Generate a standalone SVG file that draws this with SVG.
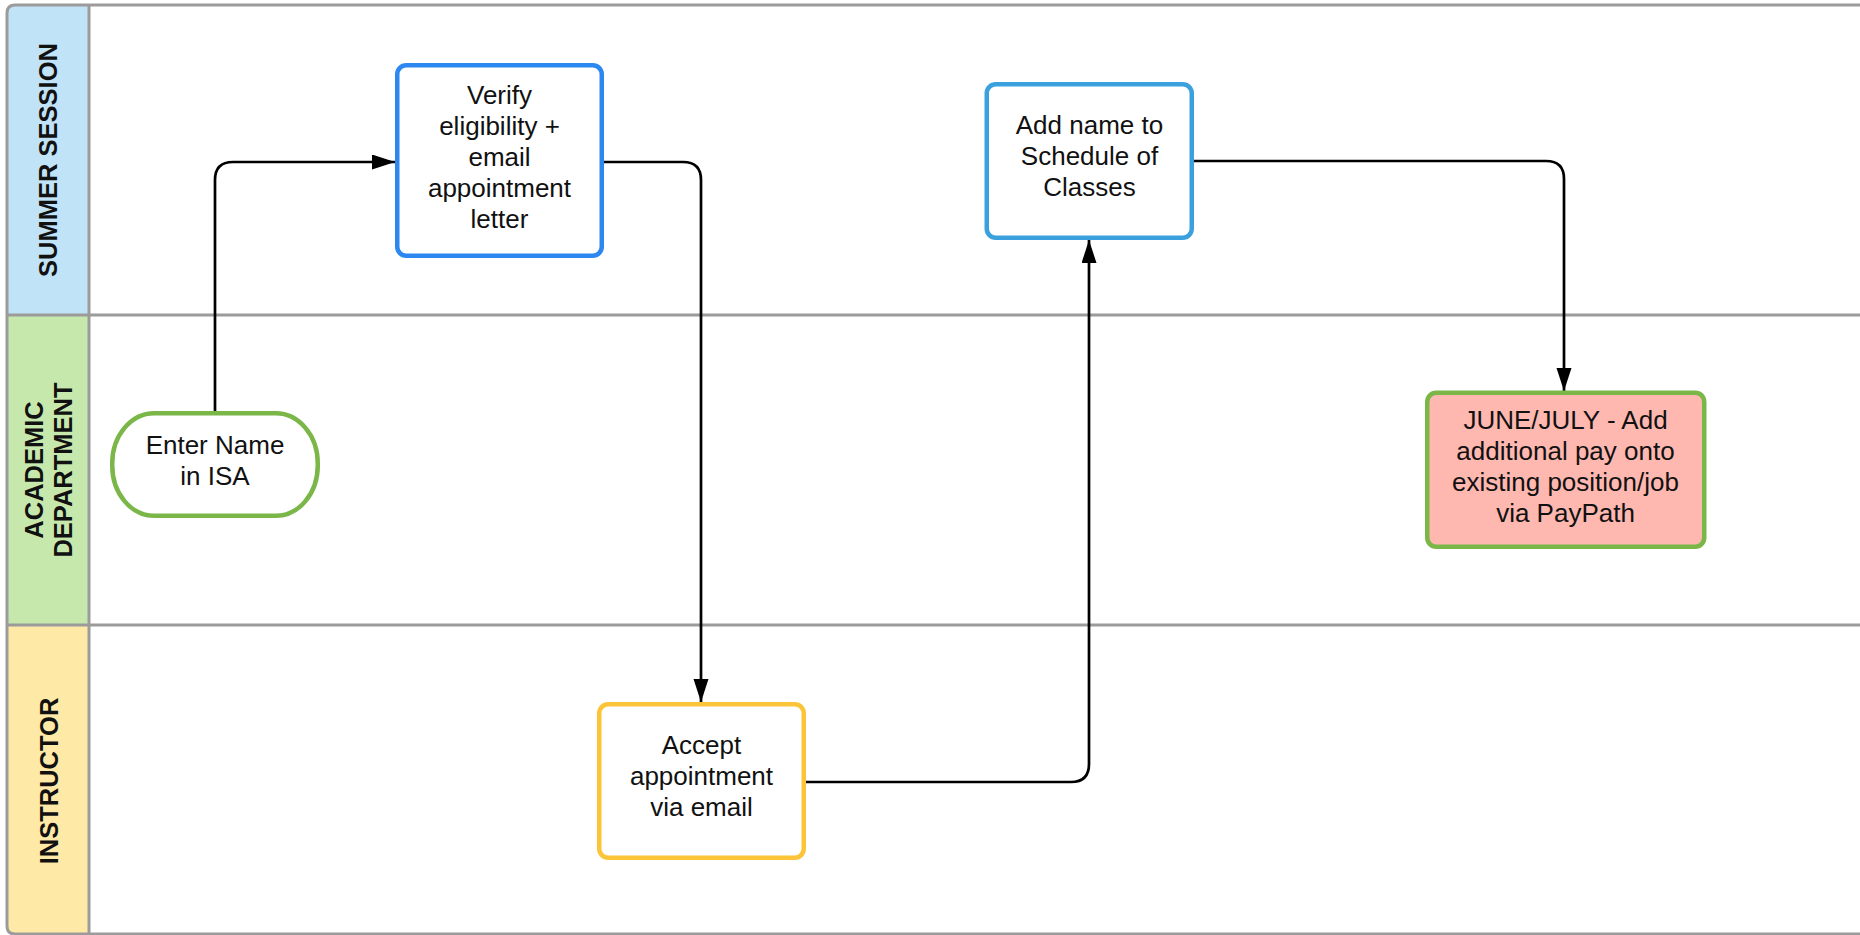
<svg xmlns="http://www.w3.org/2000/svg" width="1860" height="935" viewBox="0 0 1860 935">
  <defs>
    <marker id="arrow" markerUnits="userSpaceOnUse" markerWidth="24" markerHeight="16" refX="23" refY="7.5" orient="auto">
      <path d="M0,0 L23,7.5 L0,15 Z" fill="#000"/>
    </marker>
    <style>
      .lane-line { stroke: #9b9b9b; stroke-width: 3; fill: none; }
      .lane-title { font-family: "Liberation Sans", Arial, sans-serif; font-weight: bold; font-size: 25.5px; fill: #111; text-anchor: middle; }
      .label { font-family: "Liberation Sans", Arial, sans-serif; font-size: 26px; fill: #111; text-anchor: middle; }
      .box { stroke-width: 4.5; }
      .conn { stroke: #000; stroke-width: 2.7; fill: none; marker-end: url(#arrow); }
    </style>
  </defs>

  <rect width="1860" height="935" fill="#ffffff"/>

  <!-- swimlane frame -->
  <g id="lanes">
    <path d="M7,315 V13 Q7,5 15,5 H89 V315 Z" fill="#c1e3f7"/>
    <rect x="7" y="315" width="82" height="310" fill="#c7e8ac"/>
    <path d="M7,625 H89 V934 H15 Q7,934 7,926 Z" fill="#ffe9a6"/>
    <path class="lane-line" d="M1870,5 H15 Q7,5 7,13 V926 Q7,934 15,934 H1870"/>
    <line class="lane-line" x1="89" y1="5" x2="89" y2="935"/>
    <line class="lane-line" x1="7" y1="315" x2="1860" y2="315"/>
    <line class="lane-line" x1="7" y1="625" x2="1860" y2="625"/>
    <text class="lane-title" transform="translate(56.5,160) rotate(-90)">SUMMER SESSION</text>
    <text class="lane-title" transform="translate(42.5,470) rotate(-90)">ACADEMIC</text>
    <text class="lane-title" transform="translate(72,470) rotate(-90)">DEPARTMENT</text>
    <text class="lane-title" transform="translate(57.5,781) rotate(-90)">INSTRUCTOR</text>
  </g>

  <!-- connectors -->
  <g id="connectors">
    <path class="conn" d="M215,411 V180 Q215,162 233,162 H395"/>
    <path class="conn" d="M604,162 H683 Q701,162 701,180 V702"/>
    <path class="conn" d="M806,782 H1071 Q1089,782 1089,764 V240"/>
    <path class="conn" d="M1194,161 H1546 Q1564,161 1564,179 V391"/>
  </g>

  <g id="enter-name">
    <rect class="box" x="112.25" y="413.25" width="205.5" height="102.5" rx="42" ry="50" fill="#ffffff" stroke="#7ab648"/>
    <text class="label" x="215" y="454">Enter Name</text>
    <text class="label" x="215" y="485">in ISA</text>
  </g>

  <g id="verify">
    <rect class="box" x="397.25" y="65.25" width="204.5" height="190.5" rx="9" fill="#ffffff" stroke="#2d87f0"/>
    <text class="label" x="499.5" y="104">Verify</text>
    <text class="label" x="499.5" y="135">eligibility +</text>
    <text class="label" x="499.5" y="166">email</text>
    <text class="label" x="499.5" y="197">appointment</text>
    <text class="label" x="499.5" y="228">letter</text>
  </g>

  <g id="accept">
    <rect class="box" x="599.25" y="704.25" width="204.5" height="153.5" rx="9" fill="#ffffff" stroke="#fcc438"/>
    <text class="label" x="701.5" y="754">Accept</text>
    <text class="label" x="701.5" y="785">appointment</text>
    <text class="label" x="701.5" y="816">via email</text>
  </g>

  <g id="add-name">
    <rect class="box" x="986.75" y="84.25" width="205" height="153.5" rx="9" fill="#ffffff" stroke="#3ba1de"/>
    <text class="label" x="1089.5" y="134">Add name to</text>
    <text class="label" x="1089.5" y="165">Schedule of</text>
    <text class="label" x="1089.5" y="196">Classes</text>
  </g>

  <g id="add-pay">
    <rect class="box" x="1427.25" y="392.75" width="277" height="154" rx="9" fill="#ffb8b0" stroke="#7ab648"/>
    <text class="label" x="1565.5" y="428.5">JUNE/JULY - Add</text>
    <text class="label" x="1565.5" y="459.5">additional pay onto</text>
    <text class="label" x="1565.5" y="490.5">existing position/job</text>
    <text class="label" x="1565.5" y="521.5">via PayPath</text>
  </g>
</svg>
